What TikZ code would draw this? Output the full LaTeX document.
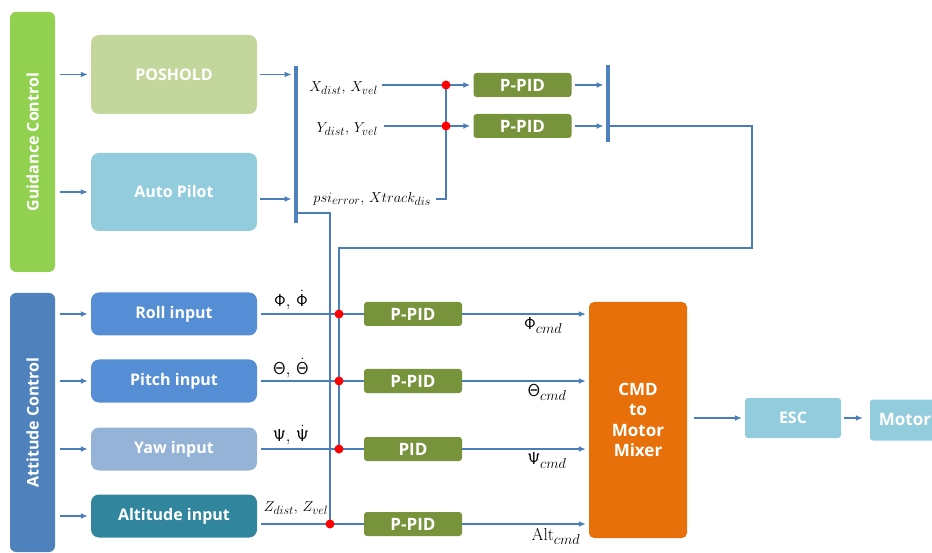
\documentclass[tikz,border=0pt]{standalone}
\usepackage[no-math]{fontspec}
\setsansfont{Open Sans}
\usepackage{amsmath}
\usetikzlibrary{arrows.meta}
\DeclareMathSizes{15}{15}{12}{9}
\DeclareMathSizes{18}{18}{14.5}{11}

\definecolor{guidegreen}{HTML}{92D050}
\definecolor{attblue}{HTML}{4F81BD}
\definecolor{posgreen}{HTML}{C3D69B}
\definecolor{skyblue}{HTML}{93CDDD}
\definecolor{inblue}{HTML}{558ED5}
\definecolor{yawblue}{HTML}{95B3D7}
\definecolor{altteal}{HTML}{31859C}
\definecolor{pidgreen}{HTML}{77933C}
\definecolor{mixorange}{HTML}{E8700A}
\definecolor{wireblue}{HTML}{4A7EBB}
\definecolor{dotred}{HTML}{FF0000}

\begin{document}
\begin{tikzpicture}[x=1pt, y=-1pt,
  ctrlbar/.style={rounded corners=6pt, minimum width=45pt, inner sep=0pt},
  bartext/.style={rotate=90, text=white, font=\sffamily\bfseries\fontsize{16}{18}\selectfont},
  block/.style={rounded corners=8pt, minimum width=166pt, inner sep=0pt,
                text=white, font=\sffamily\bfseries\fontsize{16}{18}\selectfont},
  pidbox/.style={fill=pidgreen, rounded corners=3pt, minimum width=98pt,
                 minimum height=24pt, inner sep=0pt,
                 text=white, font=\sffamily\bfseries\fontsize{17}{19}\selectfont},
  bus/.style={fill=attblue, minimum width=4.5pt, inner sep=0pt},
  lbl/.style={inner sep=1pt, font=\fontsize{15}{17}\selectfont},
  cmdlbl/.style={inner sep=1pt, font=\fontsize{18}{20}\selectfont},
  conn/.style={draw=wireblue, line width=1.4pt},
  arr/.style={conn, -{Latex[length=7pt,width=6pt]}}
]
\useasboundingbox (0,0) rectangle (932,553);

% control bars
\node[ctrlbar, fill=guidegreen, minimum height=260pt] (guide) at (32.5,142) {};
\node[bartext] (guidetxt) at (guide) {Guidance Control};
\node[ctrlbar, fill=attblue, minimum height=259pt] (att) at (32.5,422.5) {};
\node[bartext] (atttxt) at (att) {Attitude Control};

% guidance blocks
\node[block, fill=posgreen, minimum height=79pt] (poshold) at (174,74.5) {POSHOLD};
\node[block, fill=skyblue, minimum height=78pt] (autopilot) at (174,192) {Auto Pilot};

% attitude blocks
\node[block, fill=inblue, minimum height=43pt] (roll) at (174,314) {Roll input};
\node[block, fill=inblue, minimum height=43pt] (pitch) at (174,381) {Pitch input};
\node[block, fill=yawblue, minimum height=43pt] (yaw) at (174,449) {Yaw input};
\node[block, fill=altteal, minimum height=43pt] (alt) at (174,516) {Altitude input};

% buses
\node[bus, minimum height=157pt] (bus1) at (296,144.5) {};
\node[bus, minimum height=77pt] (bus2) at (608,103.5) {};

% guidance signals
\node[lbl, anchor=east] (xlab) at (379,88) {$X_{dist},\,X_{vel}$};
\node[lbl, anchor=east] (ylab) at (379,129) {$Y_{dist},\,Y_{vel}$};
\node[lbl, anchor=east] (psilab) at (432,199) {$psi_{error},\,Xtrack_{dis}$};
\node[pidbox] (pidx) at (522.5,85) {P-PID};
\node[pidbox] (pidy) at (522.5,126) {P-PID};
\coordinate (jx) at (446,85);
\coordinate (jy) at (446,126);

% attitude controllers
\node[pidbox] (pidr) at (413,314) {P-PID};
\node[pidbox] (pidp) at (413,381) {P-PID};
\node[pidbox] (pidw) at (413,449) {PID};
\node[pidbox] (pida) at (413,524) {P-PID};
\coordinate (jroll) at (339,314);
\coordinate (jpitch) at (339,381);
\coordinate (jyaw) at (339,449);
\coordinate (jalt) at (330,524);
\coordinate (busout) at (298,213);
\coordinate (fbR) at (752,248);
\coordinate (fbL) at (339,248);

\node[cmdlbl] (philab) at (291,300) {$\mathsf{\Phi},\,\dot{\mathsf{\Phi}}$};
\node[cmdlbl] (thlab) at (291,368) {$\mathsf{\Theta},\,\dot{\mathsf{\Theta}}$};
\node[cmdlbl] (pslab) at (291,435) {$\mathsf{\Psi},\,\dot{\mathsf{\Psi}}$};
\node[lbl] (zlab) at (296,508) {$Z_{dist},\,Z_{vel}$};

% mixer and motor chain
\node[rounded corners=5pt, fill=mixorange, minimum width=98pt, minimum height=236pt,
      text=white, align=center, font=\sffamily\bfseries\fontsize{17}{20.5}\selectfont] (mixer) at (638,420) {CMD\\to\\Motor\\Mixer};
\node[block, fill=skyblue, rounded corners=3pt, minimum width=96pt, minimum height=40pt] (esc) at (793,418) {ESC};
\node[block, fill=skyblue, rounded corners=3pt, minimum width=70pt, minimum height=41pt,
      font=\sffamily\bfseries\fontsize{17}{19}\selectfont] (motor) at (905,420) {Motor};

% guidance wiring
\draw[arr, shorten <=5pt, shorten >=3pt] (poshold.west -| guide.east) -- (poshold.west);
\draw[arr, shorten <=5pt, shorten >=3pt] (autopilot.west -| guide.east) -- (autopilot.west);
\draw[arr, shorten <=3pt, shorten >=2pt] (poshold.east) -- (poshold.east -| bus1.west);
\draw[arr, shorten <=3pt, shorten >=2pt] (autopilot.east |- psilab.east) -- (bus1.west |- psilab.east);
\draw[conn] (xlab.east |- jx) ++(3,0) -- (jx);
\draw[arr, shorten >=3pt] (jx) -- (pidx.west);
\draw[conn] (ylab.east |- jy) ++(5,0) -- (jy);
\draw[arr, shorten >=3pt] (jy) -- (pidy.west);
\draw[conn] (psilab.east) ++(4,0) -| (jx);
\draw[arr, shorten <=3pt, shorten >=2pt] (pidx.east) -- (pidx.east -| bus2.west);
\draw[arr, shorten <=3pt, shorten >=2pt] (pidy.east) -- (pidy.east -| bus2.west);
\draw[conn] (pidy.east -| bus2.east) -| (fbR) -- (fbL) -- (jyaw);
\draw[conn] (busout) -| (jalt);

% attitude wiring
\draw[arr, shorten <=5pt, shorten >=3pt] (roll.west -| att.east) -- (roll.west);
\draw[arr, shorten <=5pt, shorten >=3pt] (pitch.west -| att.east) -- (pitch.west);
\draw[arr, shorten <=5pt, shorten >=3pt] (yaw.west -| att.east) -- (yaw.west);
\draw[arr, shorten <=5pt, shorten >=3pt] (alt.west -| att.east) -- (alt.west);
\draw[conn, shorten <=4pt] (roll) -- (pidr);
\draw[conn, shorten <=4pt] (pitch) -- (pidp);
\draw[conn, shorten <=4pt] (yaw) -- (pidw);
\draw[conn, shorten <=4pt] (alt.east |- jalt) -- (jalt) -- (pida.west);

% commands to mixer
\draw[arr, shorten >=3pt] (pidr.east) -- (pidr.east -| mixer.west) node[pos=.64, below=2pt, cmdlbl] (phicmd) {$\mathsf{\Phi}_{cmd}$};
\draw[arr, shorten >=3pt] (pidp.east) -- (pidp.east -| mixer.west) node[pos=.67, below=2pt, cmdlbl] (thcmd) {$\mathsf{\Theta}_{cmd}$};
\draw[arr, shorten >=3pt] (pidw.east) -- (pidw.east -| mixer.west) node[pos=.67, below=2pt, cmdlbl] (pscmd) {$\mathsf{\Psi}_{cmd}$};
\draw[arr, shorten >=3pt] (pida.east) -- (pida.east -| mixer.west) node[pos=.74, below=3pt, cmdlbl] (altcmd) {$\mathrm{Alt}_{cmd}$};
\draw[arr, shorten <=7pt, shorten >=3pt] (mixer.east |- esc) -- (esc.west);
\draw[arr, shorten <=3pt, shorten >=7pt] (esc.east) -- (esc.east -| motor.west);

% junction dots
\foreach \j in {jx,jy,jroll,jpitch,jyaw,jalt}
  \fill[dotred] (\j) circle (4.5pt);
\end{tikzpicture}
\end{document}
